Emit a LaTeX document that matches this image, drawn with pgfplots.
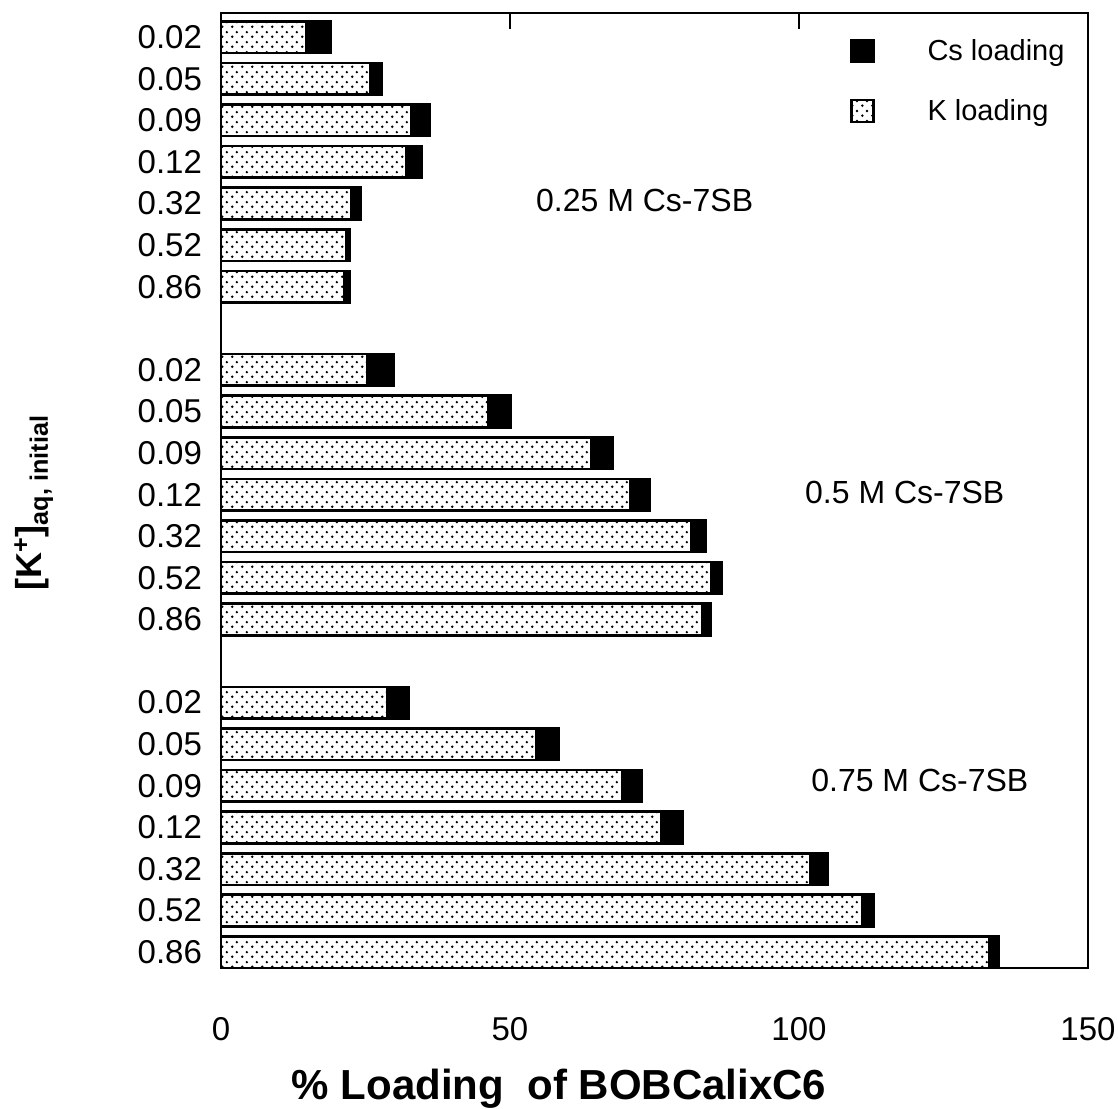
\documentclass[border=0pt]{standalone}
\usepackage{pgfplots}
\pgfplotsset{compat=1.18}
\usepackage{fontspec}
\setmainfont{Liberation Sans}
\usetikzlibrary{patterns}
\pgfdeclarepatternformonly{kdots}{\pgfqpoint{0pt}{0pt}}{\pgfqpoint{5pt}{5pt}}{\pgfqpoint{5pt}{5pt}}{%
  \pgfpathcircle{\pgfqpoint{1.25pt}{1.25pt}}{0.72pt}%
  \pgfpathcircle{\pgfqpoint{3.75pt}{3.75pt}}{0.72pt}%
  \pgfusepath{fill}}
\pgfplotsset{legsq/.style={legend image code/.code={%
  \draw[line width=1.1pt,##1] (0pt,-5.5pt) rectangle (11pt,5.5pt);
  \pgfpathmoveto{\pgfqpoint{36pt}{0pt}}\pgfusepath{discard}}}}
\newcommand{\lblfont}{\fontsize{16.5}{19}\selectfont}
\begin{document}
\begin{tikzpicture}
\begin{axis}[
  scale only axis, width=433.5pt, height=477.5pt,
  xbar stacked, bar width=0.76,
  xmin=0, xmax=150, ymin=-22.38, ymax=0.58,
  xtick={0,50,100,150},
  xtick pos=right,
  tick align=inside, major tick length=8pt,
  ytick={0,-1,-2,-3,-4,-5,-6,-8,-9,-10,-11,-12,-13,-14,-16,-17,-18,-19,-20,-21,-22},
  yticklabels={0.02,0.05,0.09,0.12,0.32,0.52,0.86,0.02,0.05,0.09,0.12,0.32,0.52,0.86,0.02,0.05,0.09,0.12,0.32,0.52,0.86},
  ytick style={draw=none},
  xtick style={line width=1.4pt, black},
  axis line style={line width=1.4pt},
  tick label style={font=\lblfont},
  /pgf/number format/assume math mode=true,
  xticklabel pos=left,
  xticklabel style={yshift=-21pt},
  yticklabel style={xshift=-6pt},
  xlabel={\textbf{\% Loading\ \ of BOBCalixC6}},
  xlabel style={font=\fontsize{21}{24}\selectfont, at={(axis description cs:0.39,-0.126)}, anchor=center},
  ylabel={\textbf{[K\textsuperscript{+}]\textsubscript{aq, initial}}},
  ylabel style={font=\fontsize{18}{21}\selectfont, at={(axis description cs:-0.216,0.487)}, anchor=center},
  legend style={at={(axis description cs:0.7255,0.977)}, anchor=north west, draw=none, fill=none,
    font=\fontsize{14.5}{17}\selectfont, row sep=14pt, inner sep=0pt},
  legend cell align=left,
  clip=false,
]
\addlegendimage{legsq, fill=black}
\addlegendentry{Cs loading}
\addlegendimage{legsq, pattern=kdots}
\addlegendentry{K loading}
\addplot[pattern=kdots, draw=black, line width=1.3pt, forget plot] coordinates {
(14.7,0) (25.9,-1) (32.9,-2) (32.0,-3) (22.5,-4) (21.7,-5) (21.3,-6)
(25.3,-8) (46.2,-9) (64.1,-10) (70.8,-11) (81.4,-12) (84.8,-13) (83.3,-14)
(28.8,-16) (54.6,-17) (69.4,-18) (76.2,-19) (101.9,-20) (110.9,-21) (133.0,-22)
};
\addplot[fill=black, draw=black, line width=1.3pt, forget plot] coordinates {
(4.3,0) (1.9,-1) (3.2,-2) (2.8,-3) (1.7,-4) (0.6,-5) (1.0,-6)
(4.5,-8) (4.0,-9) (3.6,-10) (3.3,-11) (2.5,-12) (1.9,-13) (1.5,-14)
(3.6,-16) (3.8,-17) (3.4,-18) (3.6,-19) (3.0,-20) (2.0,-21) (1.5,-22)
};
\node[font=\fontsize{16}{19}\selectfont] at (axis cs:73.3,-3.92) {0.25 M Cs-7SB};
\node[font=\fontsize{16}{19}\selectfont] at (axis cs:118.3,-10.94) {0.5 M Cs-7SB};
\node[font=\fontsize{16}{19}\selectfont] at (axis cs:120.9,-17.86) {0.75 M Cs-7SB};
\coordinate (bl) at (rel axis cs:0,0);
\coordinate (tr) at (rel axis cs:1,1);
\end{axis}
\pgfresetboundingbox
\path ([shift={(-110.5pt,-70pt)}]bl) rectangle ([shift={(15pt,6.5pt)}]tr);
\end{tikzpicture}
\end{document}
